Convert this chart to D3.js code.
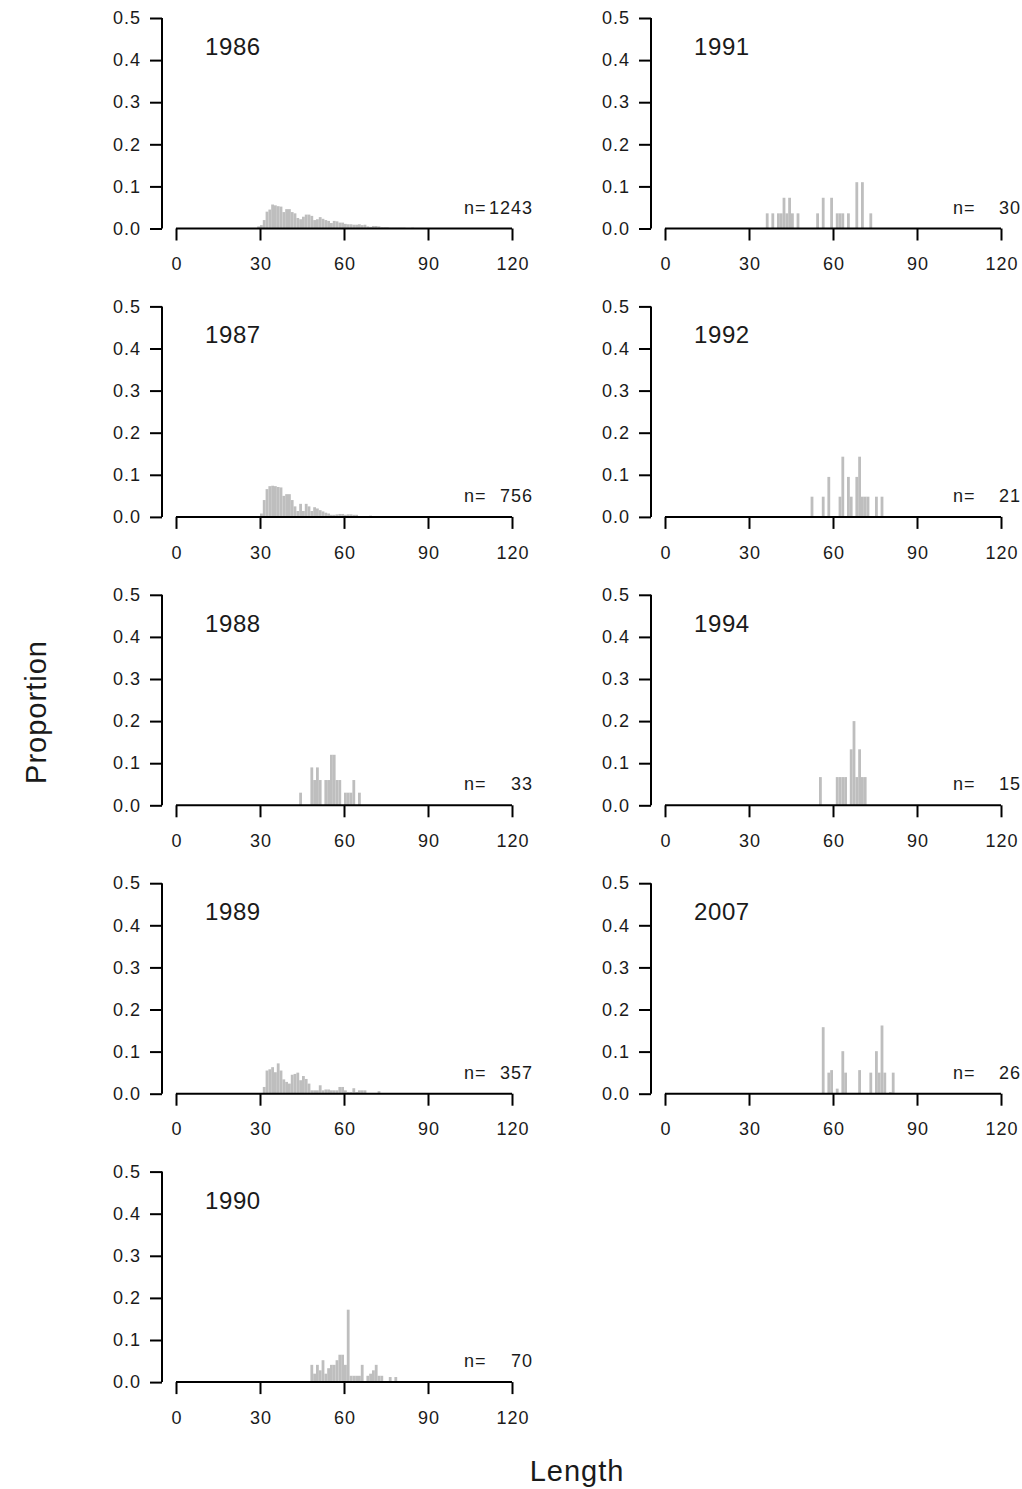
<!DOCTYPE html>
<html>
<head>
<meta charset="utf-8">
<script src="https://cdn.jsdelivr.net/npm/d3@7"></script>
<style>
  body { margin: 0; background: #fff; }
  svg text { font-family: "Liberation Sans", Arial, sans-serif; fill: #1a1a1a; }
</style>
</head>
<body>
<div id="chart"></div>
<script>
// panel order: left column top->bottom, then right column top->bottom
const years = ["1986", "1987", "1988", "1989", "1990", "1991", "1992", "1994", "2007"];
const sampleSizes = [1243, 756, 33, 357, 70, 30, 21, 15, 26];
const xTicks = [0, 30, 60, 90, 120];
const yTicks = [0.0, 0.1, 0.2, 0.3, 0.4, 0.5];

// [length bin, proportion]
const bins1986 = [[29,0.005],[30,0.008],[31,0.02],[32,0.04],[33,0.045],[34,0.057],[35,0.055],[36,0.053],[37,0.052],[38,0.039],
  [39,0.046],[40,0.046],[41,0.039],[42,0.036],[43,0.025],[44,0.022],[45,0.028],[46,0.033],[47,0.033],[48,0.03],[49,0.02],
  [50,0.022],[51,0.027],[52,0.023],[53,0.02],[54,0.018],[55,0.013],[56,0.018],[57,0.017],[58,0.014],[59,0.014],[60,0.011],
  [61,0.01],[62,0.01],[63,0.009],[64,0.009],[65,0.01],[66,0.008],[67,0.009],[68,0.005],[69,0.004],[70,0.006],[71,0.006],
  [72,0.005],[73,0.003],[74,0.003],[75,0.003],[76,0.002],[77,0.002],[78,0.002],[79,0.002],[80,0.002],[81,0.002],[82,0.001],
  [83,0.001],[84,0.002],[85,0.001]];
const bins1987 = [[30,0.008],[31,0.04],[32,0.066],[33,0.073],[34,0.074],[35,0.073],[36,0.071],[37,0.07],[38,0.05],[39,0.054],
  [40,0.054],[41,0.04],[42,0.025],[43,0.014],[44,0.031],[45,0.014],[46,0.031],[47,0.025],[48,0.014],[49,0.023],[50,0.02],
  [51,0.016],[52,0.013],[53,0.01],[54,0.008],[55,0.005],[56,0.005],[57,0.006],[58,0.007],[59,0.007],[60,0.005],[61,0.006],
  [62,0.006],[63,0.005],[64,0.005],[69,0.003]];
const bins1988 = [[44,0.03],[48,0.09],[49,0.06],[50,0.09],[51,0.06],[53,0.06],[54,0.06],[55,0.12],[56,0.12],[57,0.06],
  [58,0.06],[60,0.03],[61,0.03],[62,0.03],[63,0.06],[65,0.03]];
const bins1989 = [[31,0.016],[32,0.055],[33,0.058],[34,0.063],[35,0.051],[36,0.072],[37,0.055],[38,0.034],[39,0.028],[40,0.024],
  [41,0.045],[42,0.047],[43,0.05],[44,0.032],[45,0.042],[46,0.035],[47,0.024],[48,0.008],[49,0.008],[50,0.008],[51,0.02],
  [52,0.008],[53,0.01],[54,0.01],[55,0.008],[56,0.008],[57,0.008],[58,0.016],[59,0.016],[60,0.008],[61,0.004],[62,0.004],
  [63,0.013],[64,0.004],[65,0.008],[66,0.008],[67,0.008],[72,0.006]];
const bins1990 = [[48,0.041],[49,0.02],[50,0.041],[51,0.028],[52,0.052],[53,0.02],[54,0.033],[55,0.041],[56,0.041],[57,0.052],
  [58,0.065],[59,0.065],[60,0.041],[61,0.172],[62,0.015],[63,0.015],[64,0.015],[65,0.015],[66,0.041],[68,0.015],[69,0.02],
  [70,0.028],[71,0.041],[72,0.015],[73,0.015],[76,0.012],[78,0.012]];
const bins1991 = [[36,0.036],[38,0.036],[40,0.036],[41,0.036],[42,0.073],[43,0.036],[44,0.073],[45,0.036],[47,0.036],
  [54,0.036],[56,0.073],[59,0.073],[61,0.036],[62,0.036],[63,0.036],[65,0.036],[68,0.11],[70,0.11],[73,0.036]];
const bins1992 = [[52,0.048],[56,0.048],[58,0.095],[62,0.048],[63,0.143],[65,0.095],[66,0.048],[68,0.095],[69,0.143],
  [70,0.048],[71,0.048],[72,0.048],[75,0.048],[77,0.048]];
const bins1994 = [[55,0.067],[61,0.067],[62,0.067],[63,0.067],[64,0.067],[66,0.133],[67,0.2],[68,0.067],[69,0.133],
  [70,0.067],[71,0.067]];
const bins2007 = [[56,0.158],[58,0.05],[59,0.056],[61,0.012],[63,0.101],[64,0.05],[69,0.056],[73,0.05],[75,0.101],
  [76,0.05],[77,0.162],[78,0.05],[80,0.004],[81,0.05]];

const allBins = [bins1986, bins1987, bins1988, bins1989, bins1990, bins1991, bins1992, bins1994, bins2007];

const width = 1022, height = 1489;
const svg = d3.select("#chart").append("svg")
    .attr("width", width)
    .attr("height", height);

const columns = [
    { axisX: 162, x0: 176, x1: 512, nLeft: 464, nRight: 533 },
    { axisX: 651, x0: 665, x1: 1001, nLeft: 953, nRight: 1021 }
];
const rowStep = 288.4;
const panelTop = 18, panelH = 210.5;

years.forEach((year, i) => {
    const col = columns[i < 5 ? 0 : 1];
    const row = i < 5 ? i : i - 5;
    const top = panelTop + row * rowStep;
    const bottom = top + panelH;

    const x = d3.scaleLinear().domain([0, 120]).range([col.x0, col.x1]);
    const y = d3.scaleLinear().domain([0, 0.5]).range([bottom, top]);

    const g = svg.append("g");

    // bars
    g.selectAll("rect")
        .data(allBins[i])
        .enter().append("rect")
        .attr("x", d => x(d[0]))
        .attr("y", d => y(d[1]))
        .attr("width", x(1) - x(0))
        .attr("height", d => y(0) - y(d[1]))
        .attr("fill", "#bebebe");

    // y axis
    const yAxis = d3.axisLeft(y).tickValues(yTicks).tickFormat(d3.format(".1f")).tickSize(12).tickPadding(10);
    const ya = g.append("g")
        .attr("transform", `translate(${col.axisX},0)`)
        .call(yAxis);

    // x axis
    const xAxis = d3.axisBottom(x).tickValues(xTicks).tickSize(12).tickPadding(17);
    const xa = g.append("g")
        .attr("transform", `translate(0,${bottom})`)
        .call(xAxis);

    [ya, xa].forEach(a => {
        a.select(".domain").attr("stroke", "#000").attr("stroke-width", 2);
        a.selectAll(".tick line").attr("stroke", "#000").attr("stroke-width", 2);
        a.selectAll(".tick text")
            .style("font-size", "18px")
            .style("letter-spacing", "1px")
            .attr("fill", "#1a1a1a");
    });
    ya.selectAll(".tick text").attr("dx", "1px");
    xa.selectAll(".tick text").attr("dx", "0.5px");
    // plain line domains (no end caps)
    ya.select(".domain").attr("d", `M0,${top}V${bottom}`);
    xa.select(".domain").attr("d", `M${col.x0},0H${col.x1}`);

    // year label
    g.append("text")
        .attr("x", col.x0 + 29)
        .attr("y", top + 37)
        .style("font-size", "24px")
        .style("letter-spacing", "0.6px")
        .text(year);

    // sample size
    const nStr = String(sampleSizes[i]);
    g.append("text")
        .attr("x", col.nLeft)
        .attr("y", bottom - 15)
        .style("font-size", "18px")
        .style("letter-spacing", "1px")
        .text("n=");
    g.append("text")
        .attr("x", col.nRight)
        .attr("y", bottom - 15)
        .attr("text-anchor", "end")
        .style("font-size", "18px")
        .style("letter-spacing", "1px")
        .text(nStr);
});

// axis titles
svg.append("text")
    .attr("transform", "translate(46,712) rotate(-90)")
    .attr("text-anchor", "middle")
    .style("font-size", "29px")
    .style("letter-spacing", "1px")
    .text("Proportion");

svg.append("text")
    .attr("x", 577)
    .attr("y", 1481)
    .attr("text-anchor", "middle")
    .style("font-size", "29px")
    .style("letter-spacing", "1px")
    .text("Length");
</script>
</body>
</html>
